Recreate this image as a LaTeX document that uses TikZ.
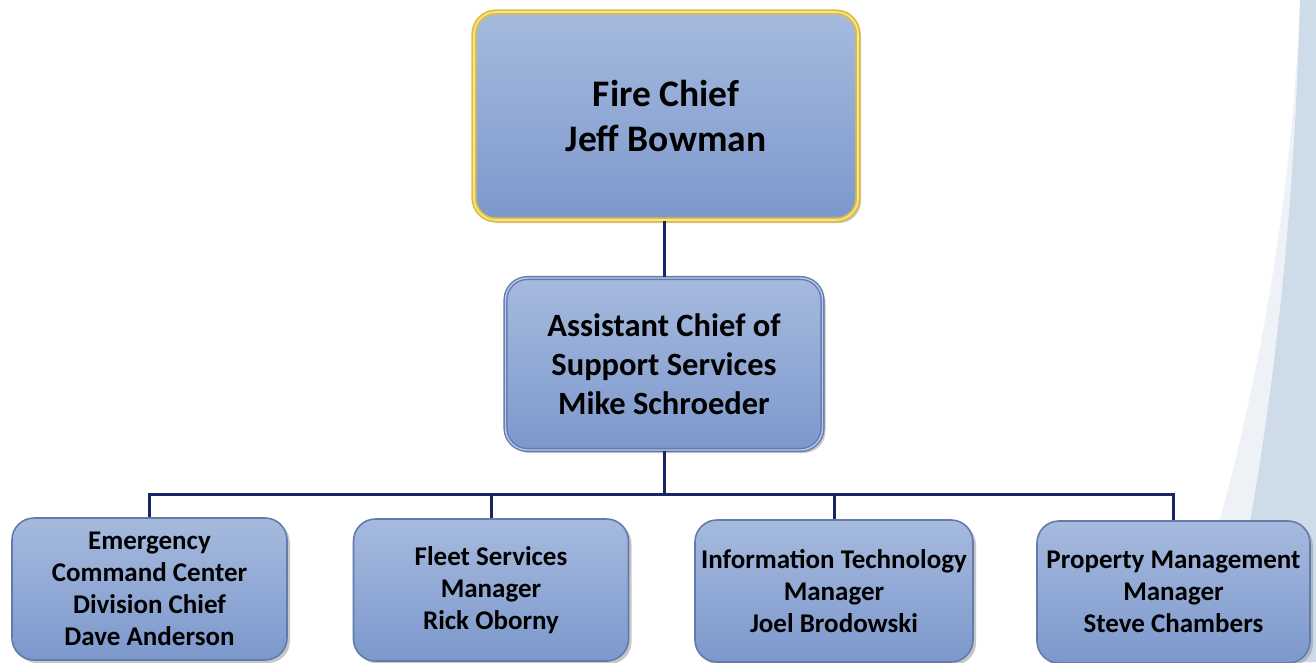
\documentclass[tikz,border=0pt]{standalone}
\usepackage{fontspec}
\setmainfont{Carlito}
\usetikzlibrary{shadows}
\definecolor{boxtop}{RGB}{166,186,222}
\definecolor{boxbot}{RGB}{124,152,204}
\definecolor{boxedge}{RGB}{98,122,172}
\definecolor{linkcol}{RGB}{26,38,100}
\definecolor{gold}{RGB}{222,190,60}
\definecolor{goldlight}{RGB}{246,228,150}
\definecolor{bandcol}{RGB}{206,219,233}
\definecolor{bandcol2}{RGB}{238,242,247}
\tikzset{
  orgbox/.style={rounded corners=22pt, top color=boxtop, bottom color=boxbot,
    draw=boxedge, line width=1.6pt, align=center, inner sep=0pt,
    text=black, font=\bfseries,
    drop shadow={shadow xshift=3pt, shadow yshift=-3pt, opacity=0.55, fill=gray!80}},
  chiefbox/.style={orgbox, draw=gold, double=goldlight, double distance=1.6pt, line width=1.8pt,
    minimum width=384pt, minimum height=208pt, font=\fontsize{37.5}{45}\selectfont\bfseries},
  asstbox/.style={orgbox, draw=boxedge, double=boxtop!80!white, double distance=1.4pt, line width=1.4pt,
    minimum width=317pt, minimum height=172pt, font=\fontsize{32.5}{39}\selectfont\bfseries},
  staffbox/.style={orgbox, minimum width=275pt, minimum height=142pt,
    font=\fontsize{27}{32}\selectfont\bfseries},
  link/.style={draw=linkcol, line width=3pt}
}
\begin{document}
\begin{tikzpicture}[x=1pt,y=-1pt]
\useasboundingbox (0,0) rectangle (1316,662);
\fill[white] (0,0) rectangle (1316,662);
\fill[bandcol2] (1300,0) .. controls (1290,250) and (1240,480) .. (1175,662) -- (1316,662) -- (1316,0) -- cycle;
\fill[bandcol] (1300,0) .. controls (1294,230) and (1270,450) .. (1222,662) -- (1316,662) -- (1316,0) -- cycle;

\node[chiefbox] (chief) at (666,116) {Fire Chief\\Jeff Bowman};
\node[asstbox] (asst) at (664,364) {Assistant Chief of\\Support Services\\Mike Schroeder};
\node[staffbox] (ecc) at (149.5,589) {Emergency\\Command Center\\Division Chief\\Dave Anderson};
\node[staffbox] (fleet) at (491,590) {Fleet Services\\Manager\\Rick Oborny};
\node[staffbox, minimum width=278pt] (it) at (834,591) {Information Technology\\Manager\\Joel Brodowski};
\node[staffbox, minimum width=273pt] (prop) at (1173.5,592) {Property Management\\Manager\\Steve Chambers};

\coordinate (bus) at (664,494);
\draw[link] (chief.south -| asst.north) -- (asst.north);
\draw[link] (asst.south) -- (bus);
\draw[link] (ecc.north) |- (bus) -| (prop.north);
\draw[link] (fleet.north) -- (fleet.north |- bus);
\draw[link] (it.north) -- (it.north |- bus);
\end{tikzpicture}
\end{document}
